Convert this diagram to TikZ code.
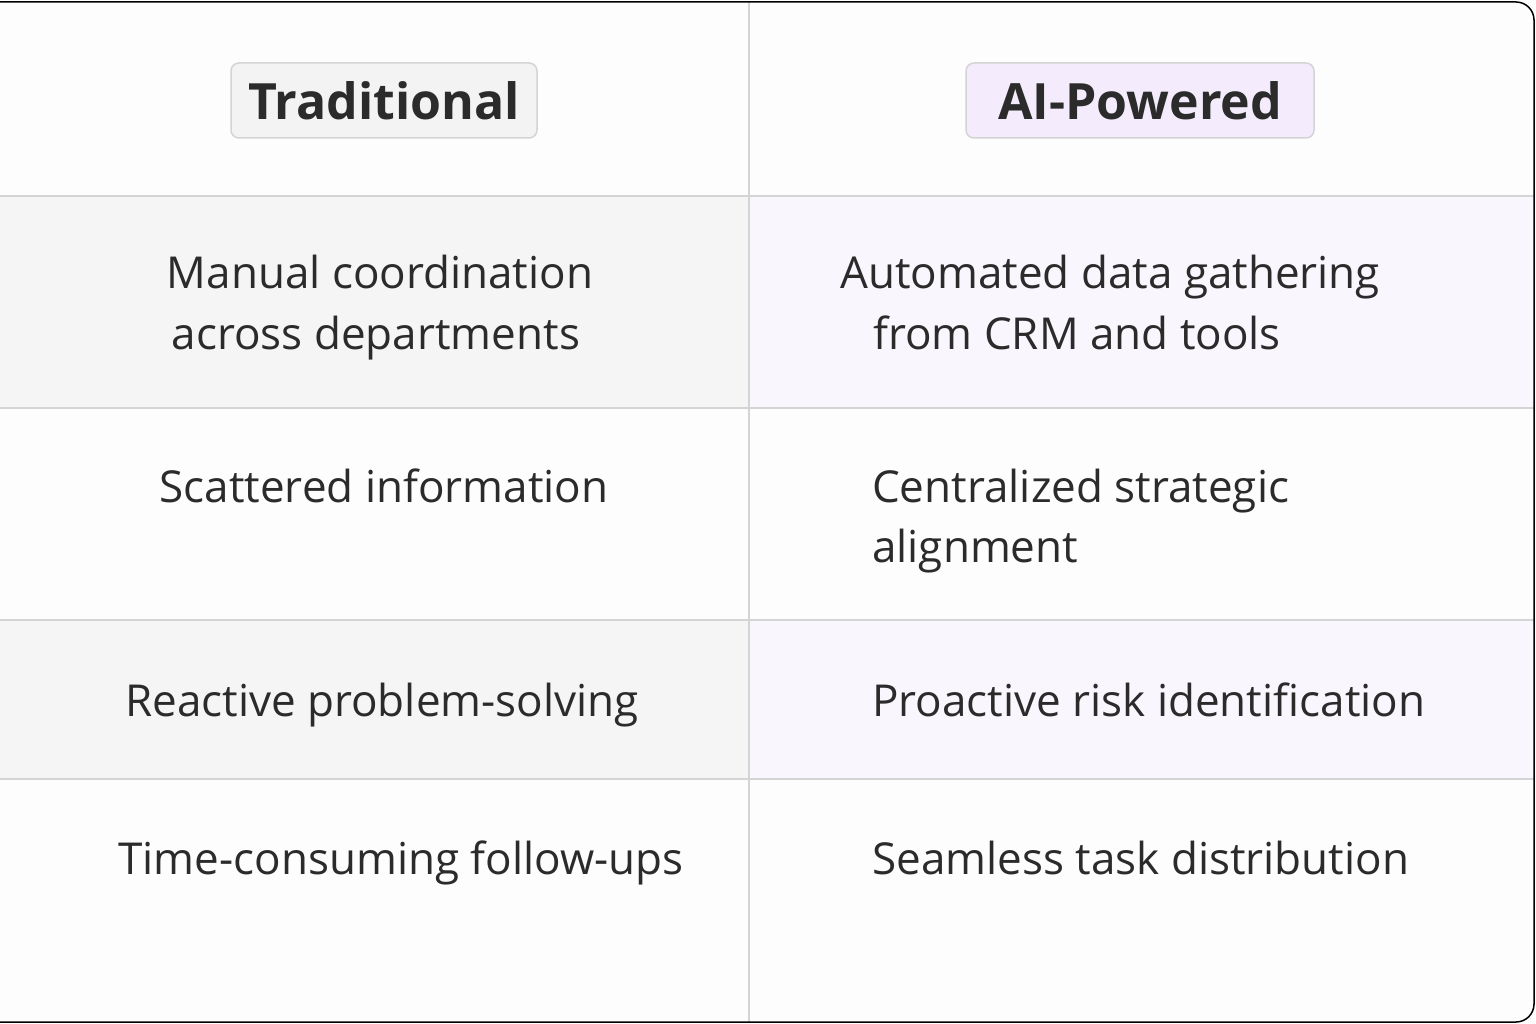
\documentclass[tikz,border=0pt]{standalone}
\usepackage{fontspec}
\setmainfont{Open Sans}
\definecolor{ink}{HTML}{2B2B2B}
\definecolor{grid}{HTML}{D4D4D4}
\definecolor{lshade}{HTML}{F5F5F5}
\definecolor{rshade}{HTML}{F9F6FD}
\definecolor{paper}{HTML}{FDFDFD}
\definecolor{tagL}{HTML}{F3F3F3}
\definecolor{tagR}{HTML}{F4ECFC}
\tikzset{
 body/.style={text=ink,font=\fontsize{44}{52}\selectfont,inner sep=0pt},
 head/.style={text=ink,font=\fontsize{50}{60}\selectfont\bfseries,inner sep=0pt},
 tag/.style={draw=grid,line width=1.5pt,rounded corners=8pt}
}
\begin{document}
\begin{tikzpicture}[x=1pt,y=-1pt]
\useasboundingbox (0,0) rectangle (1536,1024);
\fill[paper] (0,0) rectangle (1536,1024);
\fill[lshade] (0,196) rectangle (749,408);
\fill[rshade] (749,196) rectangle (1534,408);
\fill[lshade] (0,620) rectangle (749,779);
\fill[rshade] (749,620) rectangle (1534,779);
\foreach \y in {196,408,620,779} \draw[grid,line width=1.5pt] (0,\y) -- (1534,\y);
\draw[grid,line width=1.5pt] (749,2) -- (749,1022);
\draw[black,line width=1.5pt,rounded corners=18pt] (0,2) -- (1534,2) -- (1534,1022) -- (0,1022);
\draw[tag,fill=tagL] (231,63) rectangle (537,138);
\draw[tag,fill=tagR] (966,63) rectangle (1314,138);
\node[head,anchor=base] (h1) at (384,120) {Traditional};
\node[head,anchor=base] (h2) at (1140,120) {AI-Powered};
\node[body,anchor=base] (l1a) at (380,289) {Manual coordination};
\node[body,anchor=base] (l1b) at (376,349) {across departments};
\node[body,anchor=base] (l2) at (384,502) {Scattered information};
\node[body,anchor=base] (l3) at (382,716) {Reactive problem-solving};
\node[body,anchor=base] (l4) at (401,874) {Time-consuming follow-ups};
\node[body,anchor=base west] (r1a) at (840,289) {Automated data gathering};
\node[body,anchor=base west] (r1b) at (873,349) {from CRM and tools};
\node[body,anchor=base west] (r2a) at (872,502) {Centralized strategic};
\node[body,anchor=base west] (r2b) at (872,562) {alignment};
\node[body,anchor=base west] (r3) at (872,716) {Proactive risk identification};
\node[body,anchor=base west] (r4) at (872,874) {Seamless task distribution};
\end{tikzpicture}
\end{document}
